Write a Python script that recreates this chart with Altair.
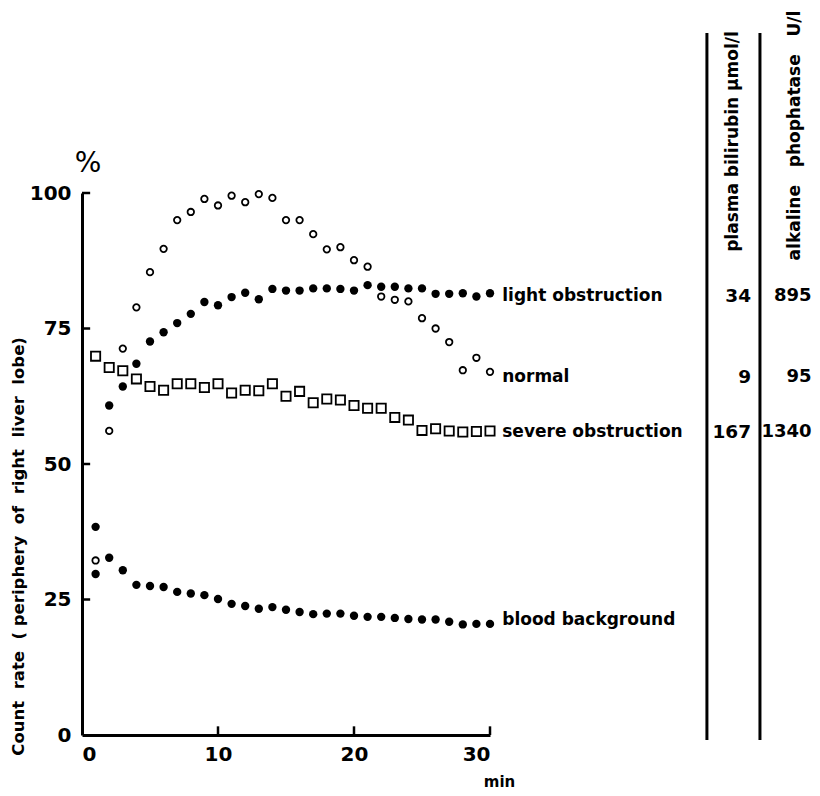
import altair as alt
import pandas as pd

# ---- data ----
minutes = list(range(1, 31))
normal = [32.2, 56.1, 71.3, 78.9, 85.4, 89.7, 95.0, 96.5, 98.9, 97.7, 99.5, 98.3, 99.8, 99.1, 95.0,
          95.0, 92.4, 89.6, 90.0, 87.6, 86.4, 80.9, 80.3, 80.0, 76.9, 75.0, 72.5, 67.3, 69.6, 67.0]
light = [38.4, 60.8, 64.3, 68.5, 72.6, 74.3, 76.0, 77.7, 79.9, 79.3, 80.8, 81.6, 80.4, 82.3, 82.0,
         82.0, 82.4, 82.4, 82.3, 82.0, 83.0, 82.7, 82.7, 82.4, 82.4, 81.4, 81.4, 81.5, 80.9, 81.5]
severe = [69.9, 67.8, 67.2, 65.7, 64.3, 63.6, 64.8, 64.8, 64.1, 64.8, 63.1, 63.6, 63.5, 64.8, 62.5,
          63.4, 61.3, 62.0, 61.8, 60.8, 60.3, 60.3, 58.6, 58.1, 56.2, 56.5, 56.1, 55.9, 56.0, 56.1]
blood = [29.7, 32.7, 30.4, 27.7, 27.5, 27.3, 26.4, 26.1, 25.8, 25.1, 24.2, 23.8, 23.3, 23.6, 23.1,
         22.7, 22.3, 22.4, 22.4, 22.0, 21.8, 21.8, 21.6, 21.4, 21.3, 21.3, 20.9, 20.4, 20.5, 20.5]

x_ticks = [0, 10, 20, 30]
y_ticks = [0, 25, 50, 75, 100]

series_labels = ["light obstruction", "normal", "severe obstruction", "blood background"]
label_y = [81.0, 66.1, 55.9, 21.2]
bilirubin = ["34", "9", "167", ""]
phosphatase = ["895", "95", "1340", ""]
NB = "\u00a0"
col_headers = ["plasma bilirubin µmol/l",
               "alkaline " + NB * 2 + "phophatase " + NB * 2 + "U/l"]
y_title = ("Count " + NB + "rate " + NB + "( periphery " + NB + "of " + NB + "right "
           + NB + "liver " + NB + "lobe)")

FONT = "DejaVu Sans"

xs = alt.Scale(domain=[0, 30], nice=False, zero=False)
ys = alt.Scale(domain=[0, 100], nice=False, zero=False)

def pts(vals):
    return pd.DataFrame({"t": minutes, "v": vals})

X = alt.X("t:Q", scale=xs, axis=alt.Axis(values=x_ticks, title=None, tickSize=0, domainWidth=3,
                                          domainColor="black", labelFontSize=20, labelFont=FONT,
                                          labelColor="black", labelPadding=9, grid=False,
                                          labelFontWeight="bold"))
Y = alt.Y("v:Q", scale=ys, axis=alt.Axis(values=y_ticks, title=None, tickSize=0, domainWidth=3,
                                          domainColor="black", labelFontSize=20, labelFont=FONT,
                                          labelColor="black", labelPadding=11, grid=False,
                                          labelFontWeight="bold"))

base_normal = alt.Chart(pts(normal)).mark_point(shape="circle", filled=False, color="black",
                                                 fill="white", size=42, strokeWidth=1.8, opacity=1
                                                 ).encode(x=X, y=Y)
base_light = alt.Chart(pts(light)).mark_point(shape="circle", filled=True, color="black",
                                               size=70, opacity=1).encode(x="t:Q", y="v:Q")
base_severe = alt.Chart(pts(severe)).mark_point(shape="square", filled=False, color="black",
                                                 fill="white", size=85, strokeWidth=1.8, opacity=1
                                                 ).encode(x="t:Q", y="v:Q")
base_blood = alt.Chart(pts(blood)).mark_point(shape="circle", filled=True, color="black",
                                               size=70, opacity=1).encode(x="t:Q", y="v:Q")

# inward ticks
ytick_df = pd.DataFrame({"x0": [0] * 4, "x1": [0.6] * 4, "y": y_ticks[1:]})
ytick = alt.Chart(ytick_df).mark_rule(color="black", strokeWidth=2.5).encode(
    x="x0:Q", x2="x1:Q", y="y:Q")
xtick_df = pd.DataFrame({"x": x_ticks[1:], "y0": [0] * 3, "y1": [1.6] * 3})
xtick = alt.Chart(xtick_df).mark_rule(color="black", strokeWidth=2.5).encode(
    x="x:Q", y="y0:Q", y2="y1:Q")

# series labels
lab_df = pd.DataFrame({"x": [30.9] * 4, "y": label_y, "text": series_labels})
labels = alt.Chart(lab_df).mark_text(align="left", baseline="middle", font=FONT, fontSize=17,
                                     fontWeight="bold", color="black").encode(
    x="x:Q", y="y:Q", text="text:N")

num_df = pd.DataFrame({"x": [49.2] * 4, "y": label_y, "text": bilirubin})
nums1 = alt.Chart(num_df).mark_text(align="right", baseline="middle", font=FONT, fontSize=18.5,
                                    fontWeight="bold", color="black").encode(
    x="x:Q", y="y:Q", text="text:N")
num2_df = pd.DataFrame({"x": [53.65] * 4, "y": label_y, "text": phosphatase})
nums2 = alt.Chart(num2_df).mark_text(align="right", baseline="middle", font=FONT, fontSize=18,
                                     fontWeight="bold", color="black").encode(
    x="x:Q", y="y:Q", text="text:N")

# table separators
sep_df = pd.DataFrame({"x": [45.95, 49.85], "y0": [-0.9, -0.9], "y1": [129.5, 129.5]})
seps = alt.Chart(sep_df).mark_rule(color="black", strokeWidth=3).encode(
    x="x:Q", y="y0:Q", y2="y1:Q")

hdr_df = pd.DataFrame({"x": [47.85, 52.45], "y": [109.5, 110.6], "text": col_headers})
headers = alt.Chart(hdr_df).mark_text(angle=270, align="center", baseline="middle", font=FONT,
                                      fontSize=17, fontWeight="bold", color="black").encode(
    x="x:Q", y="y:Q", text="text:N")

title_df = pd.DataFrame({"x": [-4.6], "y": [34.8], "text": [y_title]})
ytitle = alt.Chart(title_df).mark_text(angle=270, align="center", baseline="middle", font=FONT,
                                       fontSize=16.5, fontWeight="bold", color="black").encode(
    x="x:Q", y="y:Q", text="text:N")

pct_df = pd.DataFrame({"x": [0.45], "y": [105.3], "text": ["%"]})
pct = alt.Chart(pct_df).mark_text(align="center", baseline="middle", font=FONT, fontSize=28,
                                  color="black").encode(x="x:Q", y="y:Q", text="text:N")

min_df = pd.DataFrame({"x": [30.7], "y": [-8.7], "text": ["min"]})
minlab = alt.Chart(min_df).mark_text(align="center", baseline="middle", font=FONT, fontSize=15,
                                     fontWeight="bold", color="black").encode(
    x="x:Q", y="y:Q", text="text:N")

chart = alt.layer(
    base_normal, base_light, base_severe, base_blood, ytick, xtick,
    labels, nums1, nums2, seps, headers, ytitle, pct, minlab
).properties(
    width=408, height=542,
    padding={"left": 74, "top": 185, "right": 322, "bottom": 56},
    autosize=alt.AutoSizeParams(type="none"),
    background="white",
).configure_view(stroke=None)

chart.save("out.html", embed_options={"renderer": "svg", "actions": False})
